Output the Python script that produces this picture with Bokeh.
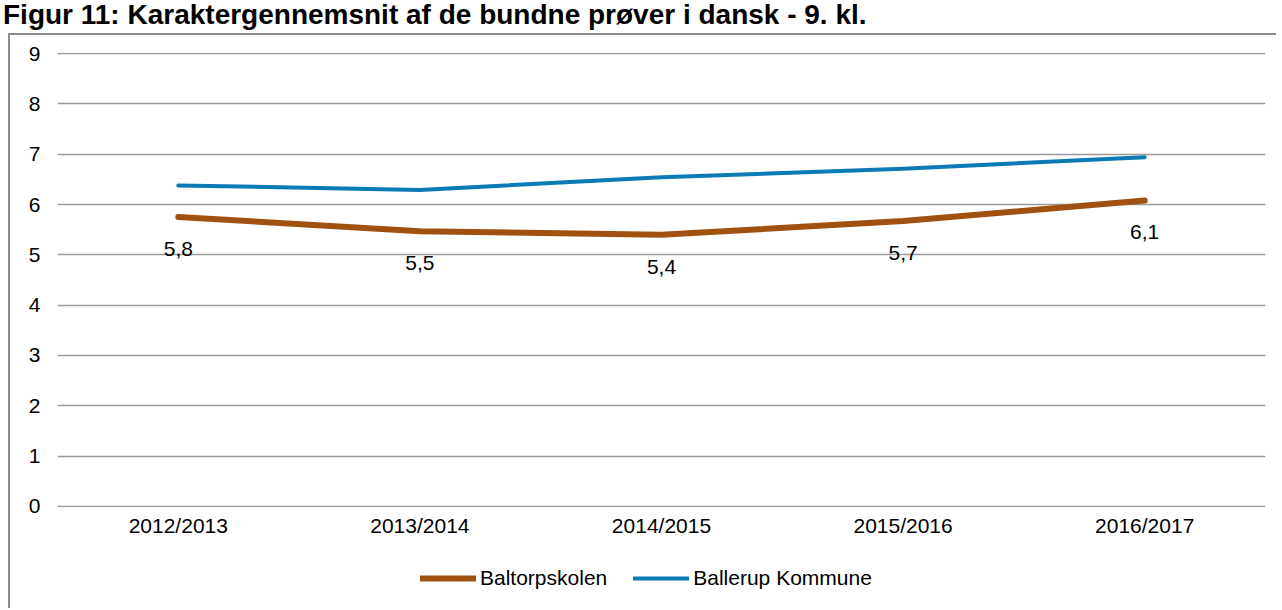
from bokeh.plotting import figure
from bokeh.layouts import column
from bokeh.models import (FactorRange, Range1d, FixedTicker, Legend, LegendItem,
                          ColumnDataSource, Div)
from bokeh.embed import file_html
from bokeh.resources import INLINE

title_text = "Figur 11: Karaktergennemsnit af de bundne prøver i dansk - 9. kl."
categories = ["2012/2013", "2013/2014", "2014/2015", "2015/2016", "2016/2017"]
baltorp = [5.75, 5.47, 5.40, 5.67, 6.08]
baltorp_labels = ["5,8", "5,5", "5,4", "5,7", "6,1"]
ballerup = [6.38, 6.29, 6.54, 6.71, 6.94]
y_ticks = [0, 1, 2, 3, 4, 5, 6, 7, 8, 9]
series_names = ["Baltorpskolen", "Ballerup Kommune"]

FONT = "Liberation Sans"
BROWN = "#A0500F"
BLUE = "#0B7BB5"
GRID = "#9a9a9a"
BOX = "#8c8c8c"
W = 1276

src = ColumnDataSource(dict(x=categories, b=baltorp, k=ballerup, lab=baltorp_labels))

# title
title = Div(text=title_text, width=W, height=32, margin=(0, 0, 0, 0), styles={
    "font-family": FONT, "font-size": "28px", "font-weight": "bold",
    "color": "#000000", "line-height": "30px", "padding-left": "3px",
    "white-space": "nowrap"})

p = figure(x_range=FactorRange(factors=categories, range_padding=0),
           y_range=Range1d(-0.02, 9.02),
           width=W, height=520, output_backend="svg", toolbar_location=None,
           min_border_left=57, min_border_right=W - 1265, min_border_top=20,
           min_border_bottom=45)

p.outline_line_color = None
p.background_fill_color = None
p.border_fill_color = None
p.title.text = ""

# grid
p.xgrid.grid_line_color = None
p.ygrid.ticker = FixedTicker(ticks=y_ticks)
p.ygrid.grid_line_color = GRID
p.ygrid.grid_line_width = 1.4

# axes
p.yaxis.ticker = FixedTicker(ticks=y_ticks)
p.yaxis.axis_line_color = None
p.yaxis.major_tick_line_color = None
p.yaxis.minor_tick_line_color = None
p.yaxis.major_label_standoff = 11
p.yaxis.major_label_text_font = FONT
p.yaxis.major_label_text_font_size = "21px"
p.yaxis.major_label_text_color = "#000000"

p.xaxis.axis_line_color = None
p.xaxis.major_tick_line_color = None
p.xaxis.minor_tick_line_color = None
p.xaxis.major_label_standoff = 0
p.xaxis.major_label_text_font = FONT
p.xaxis.major_label_text_font_size = "21px"
p.xaxis.major_label_text_color = "#000000"

p.line("x", "b", source=src, line_color=BROWN, line_width=6,
       line_cap="round", line_join="round")
p.line("x", "k", source=src, line_color=BLUE, line_width=4,
       line_cap="round", line_join="round")

p.text("x", "b", text="lab", source=src, y_offset=32, text_align="center",
       text_baseline="middle", text_font={"value": FONT}, text_font_size={"value": "21px"},
       text_color="#000000")

# legend strip (separate figure so the legend is not clipped by the chart frame);
# its line renderers use the same data but lie outside its visible y range
lg = figure(width=W, height=56, output_backend="svg", toolbar_location=None,
            x_range=FactorRange(factors=categories, range_padding=0),
            y_range=Range1d(-30, -29),
            x_axis_location=None, y_axis_location=None,
            min_border_left=0, min_border_right=0, min_border_top=0, min_border_bottom=0)
lg.outline_line_color = None
lg.background_fill_color = None
lg.border_fill_color = None
lg.xgrid.grid_line_color = None
lg.ygrid.grid_line_color = None
l1 = lg.line("x", "b", source=src, line_color=BROWN, line_width=6, line_cap="round")
l2 = lg.line("x", "k", source=src, line_color=BLUE, line_width=4, line_cap="round")
legend = Legend(items=[LegendItem(label=series_names[0], renderers=[l1]),
                       LegendItem(label=series_names[1], renderers=[l2])],
                orientation="horizontal", location=(363, 18),
                glyph_width=56, glyph_height=20, label_standoff=4, spacing=26,
                border_line_color=None, background_fill_alpha=0,
                label_text_font=FONT, label_text_font_size="21px",
                label_text_color="#000000", margin=0, padding=0)
lg.add_layout(legend)

layout = column(title, p, lg, spacing=0, styles={
    "background-color": "white",
    "background-image": f"linear-gradient({BOX},{BOX}), linear-gradient({BOX},{BOX})",
    "background-size": "2px 100%, 100% 2px",
    "background-position": "8px 33px, 8px 33px",
    "background-repeat": "no-repeat",
})

open("out.html", "w").write(file_html(layout, INLINE))
